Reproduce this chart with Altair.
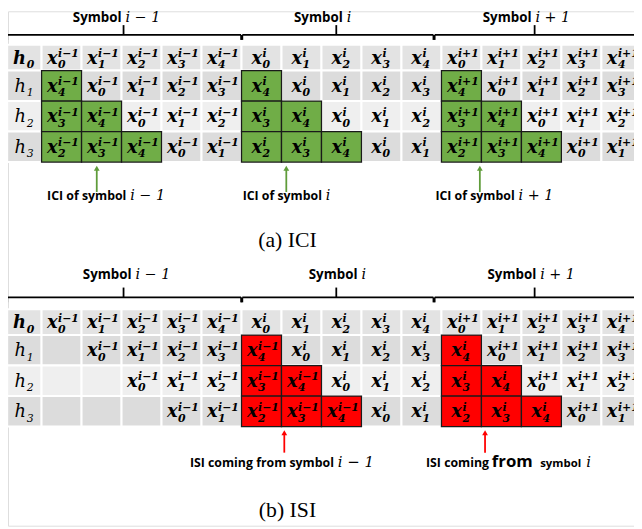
import altair as alt
import pandas as pd

# ---------------- data ----------------
SYMBOL_NAMES = ["i − 1", "i", "i + 1"]
TAP_LABELS = ["0", "1", "2", "3"]

# each cell "sub|sup" of x_sub^sup ; "" = empty cell
ICI_GRID = [
    ["0|i−1", "1|i−1", "2|i−1", "3|i−1", "4|i−1", "0|i", "1|i", "2|i", "3|i", "4|i", "0|i+1", "1|i+1", "2|i+1", "3|i+1", "4|i+1"],
    ["4|i−1", "0|i−1", "1|i−1", "2|i−1", "3|i−1", "4|i", "0|i", "1|i", "2|i", "3|i", "4|i+1", "0|i+1", "1|i+1", "2|i+1", "3|i+1"],
    ["3|i−1", "4|i−1", "0|i−1", "1|i−1", "2|i−1", "3|i", "4|i", "0|i", "1|i", "2|i", "3|i+1", "4|i+1", "0|i+1", "1|i+1", "2|i+1"],
    ["2|i−1", "3|i−1", "4|i−1", "0|i−1", "1|i−1", "2|i", "3|i", "4|i", "0|i", "1|i", "2|i+1", "3|i+1", "4|i+1", "0|i+1", "1|i+1"],
]
ICI_MARK = [
    [0] * 15,
    [1, 0, 0, 0, 0] * 3,
    [1, 1, 0, 0, 0] * 3,
    [1, 1, 1, 0, 0] * 3,
]
ISI_GRID = [
    ["0|i−1", "1|i−1", "2|i−1", "3|i−1", "4|i−1", "0|i", "1|i", "2|i", "3|i", "4|i", "0|i+1", "1|i+1", "2|i+1", "3|i+1", "4|i+1"],
    ["", "0|i−1", "1|i−1", "2|i−1", "3|i−1", "4|i−1", "0|i", "1|i", "2|i", "3|i", "4|i", "0|i+1", "1|i+1", "2|i+1", "3|i+1"],
    ["", "", "0|i−1", "1|i−1", "2|i−1", "3|i−1", "4|i−1", "0|i", "1|i", "2|i", "3|i", "4|i", "0|i+1", "1|i+1", "2|i+1"],
    ["", "", "", "0|i−1", "1|i−1", "2|i−1", "3|i−1", "4|i−1", "0|i", "1|i", "2|i", "3|i", "4|i", "0|i+1", "1|i+1"],
]
ISI_MARK = [
    [0] * 15,
    [0, 0, 0, 0, 0, 1, 0, 0, 0, 0, 1, 0, 0, 0, 0],
    [0, 0, 0, 0, 0, 1, 1, 0, 0, 0, 1, 1, 0, 0, 0],
    [0, 0, 0, 0, 0, 1, 1, 1, 0, 0, 1, 1, 1, 0, 0],
]
ICI_LABEL_WORDS = ["ICI of symbol", "ICI of symbol", "ICI of symbol"]
ICI_LABEL_MATH = ["i − 1", "i", "i + 1"]
ISI_LABEL1 = ("ISI coming from symbol", "i − 1")
ISI_LABEL2 = ("ISI coming", "from", "symbol", "i")
CAPTIONS = ["(a) ICI", "(b) ISI"]

# ---------------- layout (column / row units) ----------------
COL_PX = 40.5           # px per column unit
UNIT_PX = 30.0          # px per row unit
X_DOMAIN = [-0.8395, 14.815]
Y_DOMAIN = [0, 521 / UNIT_PX]
PANEL_OFF = [0.0, 8.93]
HEAD_COL = (-0.86, 0.0)
ROW_EDGES = [1.13, 2.0, 3.03, 4.06, 5.09]
ROW_FILLS = ["#e3e3e3", "#dcdcdc", "#efefef", "#dcdcdc"]
GREEN = "#70ad47"
GREEN_ARROW = "#5f9c3a"
RED = "#ff0000"
SANS = "Open Sans"
SERIF = "DejaVu Serif"


def dx(p):
    return p / COL_PX


def dy(p):
    return p / UNIT_PX


rects, rules, points, texts = [], [], [], []


def T(x, y, text, size, font, weight="normal", style="normal", align="center",
      baseline="alphabetic", color="black"):
    texts.append(dict(x=x, y=y, text=text, size=size, font=font, weight=weight,
                      style=style, align=align, baseline=baseline, color=color))


for p, (grid, marks, hcol) in enumerate([(ICI_GRID, ICI_MARK, GREEN), (ISI_GRID, ISI_MARK, RED)]):
    oy = PANEL_OFF[p]
    for r in range(4):
        y0, y1 = ROW_EDGES[r] + oy, ROW_EDGES[r + 1] + oy
        ym = (y0 + y1) / 2
        rects.append(dict(x=HEAD_COL[0], x2=HEAD_COL[1], y=y0, y2=y1, fill=ROW_FILLS[r], hl=0))
        hx = (HEAD_COL[0] + HEAD_COL[1]) / 2
        T(hx + dx(1.5), ym + dy(6), "h", 18, SERIF, "bold" if r == 0 else "normal",
          "italic", "right")
        T(hx + dx(2.5), ym + dy(10.5), TAP_LABELS[r], 11, SERIF, "bold" if r == 0 else "normal",
          "italic", "left")
        for c in range(15):
            hl = marks[r][c]
            rects.append(dict(x=c, x2=c + 1, y=y0, y2=y1,
                              fill=hcol if hl else ROW_FILLS[r], hl=hl))
            cell = grid[r][c]
            if not cell:
                continue
            sub, sup = cell.split("|")
            off = -4 if len(sup) > 1 else 0.5
            cx = c + 0.5
            T(cx + dx(off), ym + dy(6), "x", 18, SERIF, "bold", "italic", "right")
            T(cx + dx(off + 0.5), ym + dy(-0.5), sup, 11, SERIF, "bold", "italic", "left")
            T(cx + dx(off + 0.5), ym + dy(10.5), sub, 11, SERIF, "bold", "italic", "left")

# braces + symbol titles
BRACE_SEG = [(-0.86, 4.99), (5.02, 9.8), (9.83, 14.95)]
BRACE_MID = [2.05, 7.37, 12.33]
BRACE_Y = [0.8, 0.73]
TITLE_SPLIT = [[2.05, 7.58, 12.30], [2.30, 7.95, 12.42]]
TITLE_BASE = [0.36, 0.12]
for p in range(2):
    oy = PANEL_OFF[p]
    yb = BRACE_Y[p] + oy
    for s, (a, b) in enumerate(BRACE_SEG):
        rules.append(dict(x=a, x2=b, y=yb, y2=yb, color="black"))
        rules.append(dict(x=a, x2=a, y=yb, y2=yb + dy(5), color="black"))
        rules.append(dict(x=b, x2=b, y=yb, y2=yb + dy(5), color="black"))
        m = BRACE_MID[s]
        rules.append(dict(x=m, x2=m, y=yb, y2=yb - dy(10), color="black"))
        sp = TITLE_SPLIT[p][s]
        T(sp - dx(2), TITLE_BASE[p] + oy, "Symbol", 13.5, SANS, "bold", "normal", "right")
        T(sp + dx(2), TITLE_BASE[p] + oy, SYMBOL_NAMES[s], 14.5, SERIF, "normal", "italic", "left")

# arrows
ARROW_X = [[1.38, 6.12, 10.96], [6.07, 11.09]]
ARROW_Y = [(6.1, 5.2), (5.97, 5.2)]
ARROW_COL = [GREEN_ARROW, RED]
for p in range(2):
    oy = PANEL_OFF[p]
    yb, yt = ARROW_Y[p]
    for ax in ARROW_X[p]:
        rules.append(dict(x=ax, x2=ax, y=yb + oy, y2=yt + oy + dy(4), color=ARROW_COL[p]))
        points.append(dict(x=ax, y=yt + oy + dy(3), color=ARROW_COL[p]))

# labels under arrows
ICI_SPLIT = [2.17, 7.06, 11.88]
for s in range(3):
    yl = 6.37
    T(ICI_SPLIT[s] - dx(2), yl, ICI_LABEL_WORDS[s], 12.5, SANS, "bold", "normal", "right")
    T(ICI_SPLIT[s] + dx(2), yl, ICI_LABEL_MATH[s], 14.5, SERIF, "normal", "italic", "left")
yl = 6.47 + PANEL_OFF[1]
T(7.36 - dx(2), yl, ISI_LABEL1[0], 12.5, SANS, "bold", "normal", "right")
T(7.36 + dx(2), yl, ISI_LABEL1[1], 15, SERIF, "normal", "italic", "left")
T(11.19, yl, ISI_LABEL2[0], 12.5, SANS, "bold", "normal", "right")
T(11.26, yl, ISI_LABEL2[1], 17, SANS, "bold", "normal", "left")
T(12.47, yl, ISI_LABEL2[2], 11.5, SANS, "bold", "normal", "left")
T(13.62, yl, ISI_LABEL2[3], 15, SERIF, "normal", "italic", "left")

# captions
CAP_X = 6.15
CAP_Y = [7.96, 8.13]
for p in range(2):
    T(CAP_X, CAP_Y[p] + PANEL_OFF[p], CAPTIONS[p], 22, "Liberation Serif", "normal", "normal", "center")

# ---------------- chart ----------------
XS = alt.Scale(domain=X_DOMAIN, nice=False, zero=False)
YS = alt.Scale(domain=Y_DOMAIN, nice=False, zero=False, reverse=True)

rdf = pd.DataFrame(rects)
base_rect = alt.Chart(rdf[rdf.hl == 0]).mark_rect(stroke="white", strokeWidth=2).encode(
    x=alt.X("x:Q", scale=XS, axis=None), x2="x2:Q",
    y=alt.Y("y:Q", scale=YS, axis=None), y2="y2:Q",
    fill=alt.Fill("fill:N", scale=None),
)
hl_rect = alt.Chart(rdf[rdf.hl == 1]).mark_rect(stroke="#1a1a1a", strokeWidth=1.3).encode(
    x=alt.X("x:Q", scale=XS, axis=None), x2="x2:Q",
    y=alt.Y("y:Q", scale=YS, axis=None), y2="y2:Q",
    fill=alt.Fill("fill:N", scale=None),
)
rule_layer = alt.Chart(pd.DataFrame(rules)).mark_rule(strokeWidth=1.8).encode(
    x=alt.X("x:Q", scale=XS, axis=None), x2="x2:Q",
    y=alt.Y("y:Q", scale=YS, axis=None), y2="y2:Q",
    color=alt.Color("color:N", scale=None),
)
point_layer = alt.Chart(pd.DataFrame(points)).mark_point(
    shape="triangle-up", filled=True, size=34, opacity=1).encode(
    x=alt.X("x:Q", scale=XS, axis=None),
    y=alt.Y("y:Q", scale=YS, axis=None),
    color=alt.Color("color:N", scale=None),
)

tdf = pd.DataFrame(texts)
text_layers = []
for (font, weight, style, align, baseline), g in tdf.groupby(
        ["font", "weight", "style", "align", "baseline"]):
    text_layers.append(
        alt.Chart(g).mark_text(font=font, fontWeight=weight, fontStyle=style,
                               align=align, baseline=baseline).encode(
            x=alt.X("x:Q", scale=XS, axis=None),
            y=alt.Y("y:Q", scale=YS, axis=None),
            text="text:N",
            size=alt.Size("size:Q", scale=None),
            color=alt.Color("color:N", scale=None),
        )
    )

chart = alt.layer(base_rect, hl_rect, rule_layer, point_layer, *text_layers).properties(
    width=634, height=521, padding=0,
    autosize=alt.AutoSizeParams(type="none"),
).configure_view(stroke=None).configure(background="white")

chart.save("out.html", embed_options={"renderer": "svg", "actions": False})
